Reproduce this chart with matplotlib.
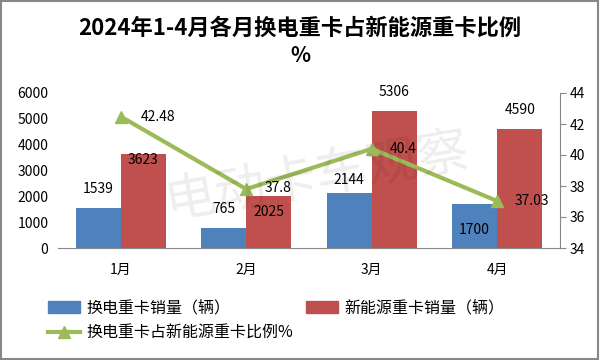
import matplotlib
matplotlib.use("Agg")
import matplotlib.pyplot as plt
import numpy as np
from matplotlib.patches import Rectangle, Patch
from matplotlib.lines import Line2D

plt.rcParams['font.family'] = ['Noto Sans CJK SC', 'DejaVu Sans']

months = ["1月", "2月", "3月", "4月"]
swap_sales = [1539, 765, 2144, 1700]
nev_sales = [3623, 2025, 5306, 4590]
ratio = [42.48, 37.8, 40.4, 37.03]

leg_swap = "换电重卡销量（辆）"
leg_nev = "新能源重卡销量（辆）"
leg_ratio = "换电重卡占新能源重卡比例%"

blue = "#4F81BD"
red = "#C0504D"
green = "#9BBB59"

W, H = 600, 360
PT = 0.72  # points per pixel at dpi 100
fig = plt.figure(figsize=(6, 3.6), dpi=100)
fig.patch.set_facecolor("white")
fig.add_artist(Rectangle((0.002, 0.003), 0.995, 0.993, transform=fig.transFigure,
                         fill=False, edgecolor="#888888", linewidth=1.5))

ax = fig.add_axes([58 / W, (H - 248) / H, 502 / W, 155 / H])
x = np.arange(len(months))
bw = 0.36
ax.bar(x - bw / 2, swap_sales, bw, color=blue, zorder=2)
ax.bar(x + bw / 2, nev_sales, bw, color=red, zorder=2)
ax.set_xlim(-0.5, len(months) - 0.5)
ax.set_ylim(0, 6000)
ax.set_yticks(range(0, 6001, 1000))
ax.set_xticks(x)
ax.set_xticklabels(months)
ax.tick_params(axis='x', length=0, pad=11, labelsize=10)
ax.tick_params(axis='y', length=0, pad=7, labelsize=10)
for s in ["top", "right", "left"]:
    ax.spines[s].set_visible(False)
ax.spines["bottom"].set_color("#888888")

# bar labels (offsets in pixels)
swap_off = [19, 19, 13, -26]
nev_off = [-6, -16, 19, 19]
for i in range(len(months)):
    ax.annotate(str(swap_sales[i]), (x[i] - bw / 2, swap_sales[i]), xytext=(0, swap_off[i] * PT),
                textcoords="offset points", ha="center", va="center", fontsize=10, zorder=6)
    ax.annotate(str(nev_sales[i]), (x[i] + bw / 2, nev_sales[i]), xytext=(0, nev_off[i] * PT),
                textcoords="offset points", ha="center", va="center", fontsize=10, zorder=6)

ax2 = ax.twinx()
ax2.plot(x, ratio, color=green, linewidth=3, marker="^", markersize=9, zorder=5)
ax2.set_ylim(34, 44)
ax2.set_yticks(range(34, 45, 2))
for s in ["top", "left", "bottom"]:
    ax2.spines[s].set_visible(False)
ax2.spines["right"].set_color("#888888")
ax2.tick_params(axis='y', direction='out', length=4, color="#888888", labelsize=10, pad=3)
ratio_off = [(37, 0), (32, 1), (31, 0), (35, 0)]
for i in range(len(months)):
    ax2.annotate(f"{ratio[i]:g}", (x[i], ratio[i]), xytext=(ratio_off[i][0] * PT, ratio_off[i][1] * PT),
                 textcoords="offset points", ha="center", va="center", fontsize=10, zorder=6)

# watermark
fig.text(317 / W, (H - 177) / H, "电动卡车观察", fontsize=37, color="#000000", alpha=0.07,
         ha="center", va="center", rotation=10, fontweight="light", zorder=10)

fig.text(0.5, (H - 28) / H, "2024年1-4月各月换电重卡占新能源重卡比例", ha="center", va="center",
         fontsize=16, fontweight="bold")
fig.text(0.5, (H - 56) / H, "%", ha="center", va="center", fontsize=15, fontweight="bold")

handles = [Patch(color=blue, label=leg_swap), Patch(color=red, label=leg_nev),
           Line2D([0], [0], color=green, linewidth=3, marker="^", markersize=9, label=leg_ratio)]
fig.legend(handles=handles[:1], loc="center left", bbox_to_anchor=(48 / W, (H - 308) / H),
           frameon=False, fontsize=11.5, handlelength=2.0, handleheight=0.8,
           handletextpad=0.4, borderaxespad=0, borderpad=0)
fig.legend(handles=handles[1:2], loc="center left", bbox_to_anchor=(306 / W, (H - 308) / H),
           frameon=False, fontsize=11.5, handlelength=2.0, handleheight=0.8,
           handletextpad=0.4, borderaxespad=0, borderpad=0)
fig.legend(handles=handles[2:], loc="center left", bbox_to_anchor=(48 / W, (H - 333) / H),
           frameon=False, fontsize=11.5, handlelength=2.0, handletextpad=0.4,
           borderaxespad=0, borderpad=0)

fig.savefig("out.png", dpi=100)
